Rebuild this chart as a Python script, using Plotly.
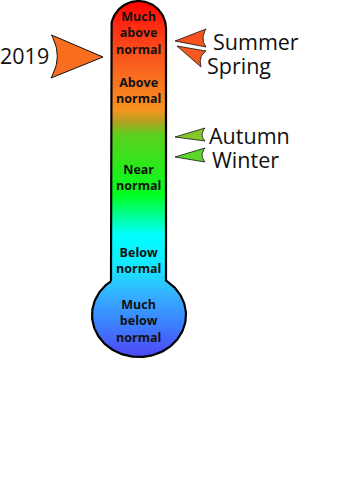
import numpy as np
import plotly.graph_objects as go

# ---------------- data ----------------
level_labels = ["Much<br>above<br>normal", "Above<br>normal", "Near<br>normal",
                "Below<br>normal", "Much<br>below<br>normal"]
level_scale = [33, 90, 177, 260, 321]          # where each category sits on the thermometer scale

year_label = "2019"
year_value = 57                                 # pointer reading for the year

season_names = ["Summer", "Spring", "Autumn", "Winter"]
season_values = [41, 46, 137, 157]              # pointer readings for each season
season_colors = ["#f4521f", "#f45a1f", "#86c829", "#5cd82a"]

# ---------------- geometry / style ----------------
W, H = 364, 486
CX, R = 138.5, 27.5          # tube centre and radius
TOP = 1.0
CAP_CY = TOP + R
BX, BY, BRX, BRY = 139.0, 315.0, 47.0, 42.0   # bulb ellipse

grad_stops = [
    (0, "#ff0000"), (25, "#ff2a12"), (60, "#fa5a1e"), (90, "#f87c1f"),
    (110, "#f7931f"), (122, "#b0a21f"), (135, "#5cd01e"), (165, "#2ee81a"),
    (195, "#00ff20"), (215, "#00ff90"), (235, "#00ffff"), (270, "#18e4ff"),
    (295, "#35b0ff"), (322, "#3a84ff"), (357, "#5046f5"),
]
ZMAX = 357.0
colorscale = [[s / ZMAX, c] for s, c in grad_stops]

# gradient fill masked to thermometer shape
xs = np.arange(88.5, 190, 1.0)
ys = np.arange(0.5, 360, 1.0)
XX, YY = np.meshgrid(xs, ys)
tube = (np.abs(XX - CX) <= R) & (YY >= CAP_CY) & (YY <= 300)
cap = ((XX - CX) ** 2 + (YY - CAP_CY) ** 2 <= R ** 2) & (YY < CAP_CY)
bulb = ((XX - BX) / BRX) ** 2 + ((YY - BY) / BRY) ** 2 <= 1
inside = tube | cap | bulb
Z = np.where(inside, YY, np.nan)

fig = go.Figure()
fig.add_trace(go.Heatmap(x=xs, y=ys, z=Z, colorscale=colorscale, zmin=0, zmax=ZMAX,
                         showscale=False, hoverinfo="skip", zsmooth=False))

# outline
yj = BY - BRY * np.sqrt(1 - ((CX - R - BX) / BRX) ** 2)
xl, xr = CX - R, CX + R
th = np.linspace(np.pi, 0, 60)
cap_x = CX + R * np.cos(th)
cap_y = CAP_CY - R * np.sin(th)
a_r = np.arctan2((yj - BY) / BRY, (xr - BX) / BRX)
a_l = np.arctan2((yj - BY) / BRY, (xl - BX) / BRX)
start = a_r
end = a_l if a_l > a_r else a_l + 2 * np.pi
t = np.linspace(0, 1, 160)
bang = start + (end - start) * t
bulb_x = BX + BRX * np.cos(bang)
bulb_y = BY + BRY * np.sin(bang)
ox = np.concatenate([[xl], cap_x, [xr], bulb_x, [xl]])
oy = np.concatenate([[yj], cap_y, [yj], bulb_y, [yj]])
fig.add_trace(go.Scatter(x=ox, y=oy, mode="lines", line=dict(color="#000", width=2.2),
                         hoverinfo="skip", showlegend=False))


def arrow(tx, ty, top, bot, bow, color, lw=1.0):
    p0 = np.array([tx + top[0], ty + top[1]])
    p2 = np.array([tx + bot[0], ty + bot[1]])
    mid = (p0 + p2) / 2
    d = np.array([tx, ty]) - mid
    d = d / np.linalg.norm(d)
    want = mid + bow * d
    c = 2 * want - 0.5 * (p0 + p2)
    s = np.linspace(0, 1, 20)
    bx = (1 - s) ** 2 * p0[0] + 2 * (1 - s) * s * c[0] + s ** 2 * p2[0]
    by = (1 - s) ** 2 * p0[1] + 2 * (1 - s) * s * c[1] + s ** 2 * p2[1]
    px = np.concatenate([[tx], bx, [tx]])
    py = np.concatenate([[ty], by, [ty]])
    fig.add_trace(go.Scatter(x=px, y=py, mode="lines", fill="toself", fillcolor=color,
                             line=dict(color="#111", width=lw), hoverinfo="skip",
                             showlegend=False))


# year pointer
arrow(103, year_value, (-51.5, -22), (-52, 21), 6, "#f96e1e")
fig.add_annotation(x=0, y=year_value - 2, text=year_label, showarrow=False,
                   xanchor="left", yanchor="middle", xshift=-2,
                   font=dict(family="Open Sans", size=21.5, color="#111"))

season_geom = [((31, -12), (31, 6)), ((29, 5), (24, 21)), ((30, -9), (30, 4)), ((30, -9), (30, 5))]
season_text_x = [211, 205, 207, 210]
season_text_dy = [0, 19, -2, 2]
for name, v, col, (tp, bt), tx, dy in zip(season_names, season_values, season_colors,
                                         season_geom, season_text_x, season_text_dy):
    tipx = 175 if name != "Spring" else 177
    arrow(tipx, v, tp, bt, 3, col, lw=0.8)
    fig.add_annotation(x=tx, y=v + dy, text=name, showarrow=False, xanchor="left",
                       yanchor="middle", font=dict(family="Open Sans", size=21.5, color="#111"))

for lab, yv in zip(level_labels, level_scale):
    fig.add_annotation(x=CX, y=yv, text="<b>" + lab + "</b>", showarrow=False,
                       xanchor="center", yanchor="middle",
                       font=dict(family="Open Sans", size=12.5, color="#111"))

fig.update_layout(width=W, height=H, margin=dict(l=0, r=0, t=0, b=0),
                  paper_bgcolor="white", plot_bgcolor="white", showlegend=False)
fig.update_xaxes(range=[0, W], visible=False, fixedrange=True)
fig.update_yaxes(range=[H, 0], visible=False, fixedrange=True)
fig.write_html("out.html")
